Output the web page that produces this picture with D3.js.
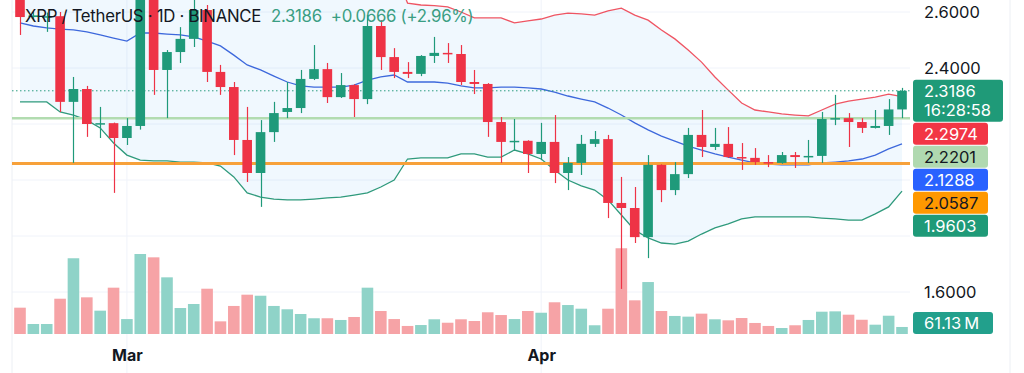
<!DOCTYPE html>
<html>
<head>
<meta charset="utf-8">
<script src="https://cdn.jsdelivr.net/npm/d3@7"></script>
<style>
  html, body { margin: 0; padding: 0; background: #fff; }
  svg { display: block; font-family: Inter, "Noto Sans", sans-serif; }
</style>
</head>
<body>
<svg id="chart" width="1024" height="373"></svg>
<script>
(function() {

  "use strict";

  // XRPUSDT daily, Feb 21 - Apr 28 2025
  var firstDay = new Date(Date.UTC(2025, 1, 21)),
      lastDay = new Date(Date.UTC(2025, 3, 28));

  var opens = [2.670, 2.582, 2.580, 2.585, 2.279, 2.325, 2.200, 2.203, 2.150, 2.193,
               2.870, 2.393, 2.457, 2.504, 2.607, 2.386, 2.332, 2.143, 2.025, 2.171,
               2.243, 2.257, 2.361, 2.396, 2.296, 2.339, 2.289, 2.550, 2.439, 2.386,
               2.379, 2.443, 2.454, 2.450, 2.350, 2.343, 2.207, 2.136, 2.140, 2.093,
               2.136, 2.025, 2.061, 2.129, 2.146, 1.918, 1.900, 1.796, 2.054, 1.964,
               2.021, 2.161, 2.118, 2.129, 2.082, 2.079, 2.064, 2.061, 2.089, 2.082,
               2.086, 2.218, 2.221, 2.207, 2.186, 2.193, 2.252];
  var highs = [2.690, 2.600, 2.598, 2.600, 2.368, 2.336, 2.261, 2.205, 2.221, 2.990,
               2.950, 2.464, 2.546, 2.700, 2.625, 2.411, 2.350, 2.261, 2.214, 2.279,
               2.350, 2.393, 2.482, 2.418, 2.382, 2.342, 2.589, 2.571, 2.471, 2.421,
               2.446, 2.511, 2.489, 2.482, 2.393, 2.346, 2.225, 2.218, 2.142, 2.204,
               2.232, 2.082, 2.161, 2.175, 2.161, 2.011, 1.975, 2.089, 2.056, 2.064,
               2.186, 2.250, 2.186, 2.189, 2.132, 2.114, 2.089, 2.100, 2.100, 2.143,
               2.243, 2.304, 2.239, 2.221, 2.250, 2.289, 2.329];
  var lows = [2.518, 2.570, 2.529, 2.243, 2.061, 2.154, 2.150, 1.954, 2.125, 2.180,
              2.304, 2.221, 2.418, 2.475, 2.350, 2.304, 2.089, 1.993, 1.904, 2.136,
              2.221, 2.239, 2.357, 2.275, 2.293, 2.225, 2.271, 2.393, 2.364, 2.364,
              2.371, 2.418, 2.418, 2.339, 2.307, 2.154, 2.061, 2.107, 2.025, 2.071,
              1.989, 1.964, 2.018, 2.118, 1.864, 1.611, 1.775, 1.721, 1.921, 1.946,
              2.007, 2.082, 2.107, 2.079, 2.036, 2.054, 2.046, 2.058, 2.043, 2.061,
              2.061, 2.196, 2.118, 2.168, 2.184, 2.161, 2.221];
  var closes = [2.582, 2.588, 2.585, 2.279, 2.325, 2.200, 2.203, 2.150, 2.193, 2.870,
                2.393, 2.457, 2.504, 2.607, 2.386, 2.332, 2.143, 2.025, 2.171, 2.239,
                2.257, 2.361, 2.396, 2.296, 2.339, 2.289, 2.550, 2.439, 2.386, 2.379,
                2.443, 2.454, 2.450, 2.350, 2.343, 2.207, 2.136, 2.140, 2.093, 2.136,
                2.025, 2.061, 2.129, 2.146, 1.918, 1.900, 1.796, 2.054, 1.964, 2.021,
                2.161, 2.118, 2.129, 2.082, 2.079, 2.064, 2.061, 2.089, 2.082, 2.086,
                2.218, 2.221, 2.207, 2.186, 2.193, 2.252, 2.3186];
  // volume, millions of XRP
  var volumes = [229, 87, 87, 307, 659, 319, 203, 403, 130, 696,
                 667, 493, 226, 261, 394, 110, 244, 342, 333, 244,
                 215, 174, 137, 137, 122, 148, 403, 200, 130, 70,
                 78, 128, 98, 128, 113, 189, 165, 130, 200, 185,
                 276, 252, 220, 76, 220, 746, 293, 452, 200, 157,
                 151, 177, 128, 119, 139, 96, 70, 52, 76, 122,
                 194, 197, 168, 124, 81, 159, 61.13];

  // Bollinger bands
  var bbUpper = [2.843, 2.821, 2.807, 2.835, 2.840, 2.844, 2.850, 2.882, 2.903, 2.979,
                 2.982, 2.974, 2.972, 2.958, 2.931, 2.908, 2.881, 2.868, 2.847, 2.810,
                 2.771, 2.743, 2.732, 2.728, 2.725, 2.732, 2.760, 2.761, 2.750, 2.632,
                 2.625, 2.623, 2.618, 2.600, 2.579, 2.579, 2.579, 2.561, 2.568, 2.575,
                 2.589, 2.596, 2.593, 2.589, 2.604, 2.614, 2.589, 2.571, 2.536, 2.504,
                 2.464, 2.421, 2.368, 2.321, 2.275, 2.250, 2.243, 2.236, 2.232, 2.229,
                 2.250, 2.271, 2.282, 2.289, 2.296, 2.307, 2.2974];
  var bbBasis = [2.561, 2.550, 2.543, 2.539, 2.536, 2.529, 2.518, 2.507, 2.496, 2.525,
                 2.525, 2.521, 2.518, 2.511, 2.496, 2.479, 2.446, 2.411, 2.393, 2.371,
                 2.350, 2.336, 2.332, 2.332, 2.332, 2.339, 2.357, 2.368, 2.375, 2.350,
                 2.350, 2.350, 2.346, 2.336, 2.329, 2.329, 2.332, 2.332, 2.329, 2.325,
                 2.314, 2.300, 2.289, 2.279, 2.257, 2.232, 2.204, 2.179, 2.157, 2.139,
                 2.121, 2.107, 2.093, 2.082, 2.071, 2.061, 2.057, 2.054, 2.054, 2.054,
                 2.061, 2.064, 2.068, 2.075, 2.089, 2.111, 2.1288];
  var bbLower = [2.279, 2.279, 2.279, 2.243, 2.232, 2.214, 2.186, 2.132, 2.089, 2.071,
                 2.068, 2.068, 2.064, 2.064, 2.061, 2.050, 2.011, 1.954, 1.939, 1.932,
                 1.929, 1.929, 1.932, 1.936, 1.939, 1.946, 1.954, 1.975, 2.000, 2.075,
                 2.079, 2.079, 2.079, 2.093, 2.093, 2.082, 2.082, 2.107, 2.093, 2.075,
                 2.036, 2.000, 1.979, 1.964, 1.929, 1.875, 1.821, 1.793, 1.775, 1.771,
                 1.782, 1.807, 1.829, 1.843, 1.861, 1.868, 1.868, 1.868, 1.868, 1.868,
                 1.864, 1.861, 1.857, 1.857, 1.879, 1.904, 1.9603];

  // horizontal levels drawn on the chart
  var levels = [2.2201, 2.0587];

  var priceTicks = [2.6, 2.4, 2.2, 2.0, 1.8, 1.6];
  var dateTicks = [new Date(Date.UTC(2025, 2, 1)), new Date(Date.UTC(2025, 3, 1))];

  var legendTitle = "XRP / TetherUS \u00b7 1D \u00b7 BINANCE",
      legendChange = "+0.0666 (+2.96%)",
      countdown = "16:28:58";

  var app = {

    // Setup /////////////////////////////////////////////////
    setup: function() {
    //////////////////////////////////////////////////////////

      app.svg = d3.select("#chart");
      app.left = 12;
      app.right = 910;

      var days = d3.utcDay.range(firstDay, d3.utcDay.offset(lastDay, 1));
      app.bars = days.map(function(d, i) {
        return { date: d, o: opens[i], h: highs[i], l: lows[i], c: closes[i],
                 v: volumes[i], up: bbUpper[i], mid: bbBasis[i], lo: bbLower[i] };
      });

      app.x = d3.scaleUtc().domain([firstDay, lastDay]).range([20, 902]);
      app.y = d3.scaleLinear().domain([1.6, 2.6]).range([292, 12]);
      app.yv = d3.scaleLinear().domain([0, 870]).range([334, 234]);

      app.svg.append("clipPath").attr("id", "plot")
        .append("rect")
          .attr("x", app.left).attr("y", 0)
          .attr("width", app.right - app.left).attr("height", 340);
    },

    // Grid //////////////////////////////////////////////////
    grid: function() {
    //////////////////////////////////////////////////////////

      var g = app.svg.append("g");

      g.selectAll("line.h")
          .data(priceTicks)
        .enter().append("line")
          .attr("class", "h")
          .attr("x1", app.left).attr("x2", app.right)
          .attr("y1", function(d) { return app.y(d); })
          .attr("y2", function(d) { return app.y(d); })
          .attr("stroke", "#f0f3fa");

      g.selectAll("line.v")
          .data(dateTicks)
        .enter().append("line")
          .attr("class", "v")
          .attr("x1", function(d) { return app.x(d); })
          .attr("x2", function(d) { return app.x(d); })
          .attr("y1", 0).attr("y2", 373)
          .attr("stroke", "#f0f3fa");

      // pane borders
      g.append("line").attr("x1", app.left).attr("x2", app.left)
          .attr("y1", 0).attr("y2", 373).attr("stroke", "#eceff4");
      g.append("line").attr("x1", 1010).attr("x2", 1010)
          .attr("y1", 0).attr("y2", 373).attr("stroke", "#eceff4");
    },

    // Bollinger bands ///////////////////////////////////////
    bands: function() {
    //////////////////////////////////////////////////////////

      var g = app.svg.append("g").attr("clip-path", "url(#plot)");
      var x = function(d) { return app.x(d.date); };

      g.append("path")
          .datum(app.bars)
          .attr("fill", "rgba(33,150,243,0.065)")
          .attr("d", d3.area().x(x)
            .y0(function(d) { return app.y(d.lo); })
            .y1(function(d) { return app.y(d.up); }));

      var lines = [
        { key: "up", color: "#ef5563" },
        { key: "mid", color: "#3d68dc" },
        { key: "lo", color: "#2f9a7c" }
      ];

      lines.forEach(function(l) {
        g.append("path")
            .datum(app.bars)
            .attr("fill", "none")
            .attr("stroke", l.color)
            .attr("stroke-width", 1.3)
            .attr("d", d3.line().x(x).y(function(d) { return app.y(d[l.key]); }));
      });
    },

    // Levels + last price line //////////////////////////////
    levels: function() {
    //////////////////////////////////////////////////////////

      var g = app.svg.append("g");
      var styles = [{ color: "#b2dcb0", width: 2.5 }, { color: "#f7a13a", width: 3 }];

      g.selectAll("line.level")
          .data(levels)
        .enter().append("line")
          .attr("class", "level")
          .attr("x1", app.left).attr("x2", app.right)
          .attr("y1", function(d) { return app.y(d); })
          .attr("y2", function(d) { return app.y(d); })
          .attr("stroke", function(d, i) { return styles[i].color; })
          .attr("stroke-width", function(d, i) { return styles[i].width; });

      var last = closes[closes.length - 1];
      g.append("line")
          .attr("x1", app.left).attr("x2", app.right)
          .attr("y1", app.y(last)).attr("y2", app.y(last))
          .attr("stroke", "#2b9c80")
          .attr("stroke-width", 1)
          .attr("stroke-dasharray", "1.5,2.5");
    },

    // Volume ////////////////////////////////////////////////
    volume: function() {
    //////////////////////////////////////////////////////////

      var w = 11.6;
      app.svg.append("g")
        .selectAll("rect")
          .data(app.bars)
        .enter().append("rect")
          .attr("x", function(d) { return app.x(d.date) - w / 2; })
          .attr("width", w)
          .attr("y", function(d) { return app.yv(d.v); })
          .attr("height", function(d) { return app.yv(0) - app.yv(d.v); })
          .attr("fill", function(d) { return d.c >= d.o ? "#8fd3c8" : "#f6a3a6"; });
    },

    // Candles ///////////////////////////////////////////////
    candles: function() {
    //////////////////////////////////////////////////////////

      var w = 9.6;
      var color = function(d) { return d.c >= d.o ? "#1f9a7a" : "#ee3346"; };
      var sel = app.svg.append("g").attr("clip-path", "url(#plot)")
        .selectAll("g")
          .data(app.bars)
        .enter().append("g");

      // Wick
      sel.append("line")
          .attr("x1", function(d) { return Math.round(app.x(d.date)) + 0.5; })
          .attr("x2", function(d) { return Math.round(app.x(d.date)) + 0.5; })
          .attr("y1", function(d) { return app.y(d.h); })
          .attr("y2", function(d) { return app.y(d.l); })
          .attr("stroke", color)
          .attr("stroke-width", 1.2);

      // Body
      sel.append("rect")
          .attr("x", function(d) { return app.x(d.date) - w / 2; })
          .attr("width", w)
          .attr("y", function(d) { return app.y(Math.max(d.o, d.c)); })
          .attr("height", function(d) {
            return Math.max(1.5, Math.abs(app.y(d.o) - app.y(d.c)));
          })
          .attr("fill", color);
    },

    // Legend ////////////////////////////////////////////////
    legend: function() {
    //////////////////////////////////////////////////////////

      var t = app.svg.append("text")
          .attr("x", 25).attr("y", 21.5)
          .attr("font-size", 16.8)
          .attr("letter-spacing", -0.3);
      t.append("tspan").attr("fill", "#131722").text(legendTitle);
      t.append("tspan").attr("fill", "#3a9e83").attr("dx", 10)
          .text(d3.format(".4f")(closes[closes.length - 1]));
      t.append("tspan").attr("fill", "#3a9e83").attr("dx", 9).text(legendChange);
    },

    // Axes //////////////////////////////////////////////////
    axes: function() {
    //////////////////////////////////////////////////////////

      var py = app.svg.append("g")
          .attr("class", "price-axis")
          .attr("transform", "translate(924,0)")
          .call(d3.axisRight(app.y)
            .tickValues(priceTicks)
            .tickFormat(d3.format(".4f"))
            .tickSize(0).tickPadding(0));
      py.select(".domain").remove();
      py.selectAll("text")
          .attr("font-family", "Inter, sans-serif")
          .attr("font-size", 16.5)
          .attr("fill", "#131722");

      var px = app.svg.append("g")
          .attr("transform", "translate(0,355)")
          .call(d3.axisBottom(app.x)
            .tickValues(dateTicks)
            .tickFormat(d3.utcFormat("%b"))
            .tickSize(0));
      px.select(".domain").remove();
      px.selectAll("text")
          .attr("y", 0).attr("dy", "0.35em")
          .attr("font-family", "Inter, sans-serif")
          .attr("font-size", 16)
          .attr("font-weight", 700)
          .attr("fill", "#131722");
    },

    // Price tags ////////////////////////////////////////////
    tags: function() {
    //////////////////////////////////////////////////////////

      var last = closes[closes.length - 1],
          n = app.bars.length - 1;
      var tags = [
        { v: last, lines: [d3.format(".4f")(last), countdown], bg: "#1f9a78", fg: "#fff", w: 90 },
        { v: bbUpper[n], bg: "#f23645", fg: "#fff", w: 75 },
        { v: levels[0], bg: "#b0d9b0", fg: "#131722", w: 75 },
        { v: bbBasis[n], bg: "#2962ff", fg: "#fff", w: 75 },
        { v: levels[1], bg: "#ff9800", fg: "#131722", w: 75 },
        { v: bbLower[n], bg: "#1f9a78", fg: "#fff", w: 75 }
      ];

      // stack boxes downward so they don't overlap
      var bottom = -Infinity;
      tags.forEach(function(t) {
        t.lines = t.lines || [d3.format(".4f")(t.v)];
        t.h = t.lines.length * 20 + 2;
        t.top = Math.max(app.y(t.v) - 11, bottom + 1);
        bottom = t.top + t.h;
      });

      // axis labels whose centre sits under the tag stack are hidden
      var stackTop = tags[0].top, stackBottom = bottom;
      d3.selectAll(".price-axis .tick").filter(function(d) {
        var ty = app.y(d);
        return ty > stackTop && ty < stackBottom;
      }).remove();

      var g = app.svg.append("g").selectAll("g")
          .data(tags)
        .enter().append("g")
          .attr("transform", function(d) { return "translate(913," + d.top + ")"; });

      g.append("rect")
          .attr("width", function(d) { return d.w; })
          .attr("height", function(d) { return d.h; })
          .attr("rx", 3)
          .attr("fill", function(d) { return d.bg; });

      g.each(function(d) {
        var s = d3.select(this);
        d.lines.forEach(function(line, i) {
          s.append("text")
              .attr("x", 11).attr("y", 11 + i * 19)
              .attr("dy", "0.35em")
              .attr("font-size", 16.5)
              .attr("fill", d.fg)
              .text(line);
        });
      });

      // volume tag
      var vLast = volumes[volumes.length - 1];
      var vTop = Math.min(app.yv(vLast) - 11, app.yv(0) - 22);
      var vg = app.svg.append("g").attr("transform", "translate(913," + vTop + ")");
      vg.append("rect").attr("width", 80).attr("height", 22).attr("rx", 3)
          .attr("fill", "#22a08c");
      vg.append("text").attr("x", 11).attr("y", 11).attr("dy", "0.35em")
          .attr("font-size", 16.5).attr("fill", "#fff")
          .text(d3.format(".2f")(vLast) + "\u2009M");
    },

    //////////////////////////////////////////////////////////
    runApp: function() {
    //////////////////////////////////////////////////////////
      app.setup();
      app.grid();
      app.bands();
      app.levels();
      app.volume();
      app.candles();
      app.legend();
      app.axes();
      app.tags();
    }

  };

  // Run app
  app.runApp();

})();
</script>
</body>
</html>
